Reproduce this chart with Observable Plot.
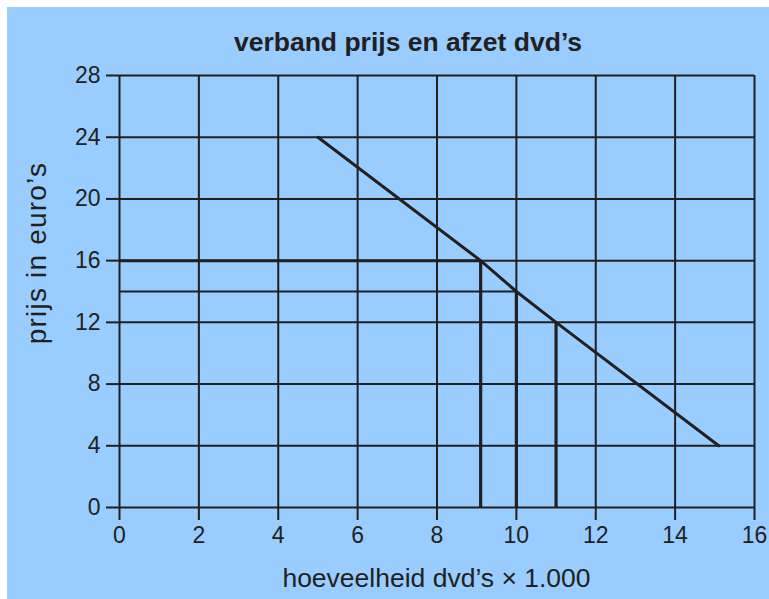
<!DOCTYPE html>
<html>
<head>
<meta charset="utf-8">
<script src="https://cdn.jsdelivr.net/npm/d3@7"></script>
<script src="https://cdn.jsdelivr.net/npm/@observablehq/plot@0.6"></script>
<style>
  html, body { margin: 0; padding: 0; background: #ffffff; }
  #page { position: relative; width: 769px; height: 599px; overflow: hidden; font-family: "Liberation Sans", Arial, Helvetica, sans-serif; color: #231f20; }
  #bg { position: absolute; left: 7px; top: 7px; right: 0; bottom: 0; background: #99ccff; }
  #title { position: absolute; left: 0; width: 816px; top: 27px; text-align: center; font-weight: bold; font-size: 26.5px; line-height: 30px; }
  #xlabel { position: absolute; left: 0; width: 873px; top: 563px; text-align: center; font-size: 26.5px; line-height: 30px; }
  #ylabel { position: absolute; left: 37px; top: 253px; transform: translate(-50%, -50%) rotate(-90deg); white-space: nowrap; font-size: 28px; letter-spacing: 1.2px; line-height: 30px; }
  #chart { position: absolute; left: 0; top: 0; }
  #chart svg { background: transparent; }
</style>
</head>
<body>
<div id="page">
  <div id="bg"></div>
  <div id="chart"></div>
  <div id="title">verband prijs en afzet dvd’s</div>
  <div id="xlabel">hoeveelheid dvd’s × 1.000</div>
  <div id="ylabel">prijs in euro’s</div>
</div>
<script>
// Tick values
const xTicks = [0, 2, 4, 6, 8, 10, 12, 14, 16];
const yTicks = [0, 4, 8, 12, 16, 20, 24, 28];

// Demand line (quantity × 1.000, price in euro)
const demandQuantity = [5, 9.1, 10, 11, 15.1];
const demandPrice = [24, 16, 14, 12, 4];

// Reference points
const refQuantity = [9.1, 10, 11];
const refPrice = [16, 14, 12];
// Horizontal helper lines (price levels drawn to the line)
const hLinePrice = [16, 14];
const hLineQuantity = [9.1, 10];

const ink = "#231f20";
const demand = demandQuantity.map((q, i) => ({q, p: demandPrice[i]}));
const refs = refQuantity.map((q, i) => ({q, p: refPrice[i]}));
const hLines = hLinePrice.map((p, i) => ({p, q: hLineQuantity[i]}));

const chart = Plot.plot({
  width: 769,
  height: 599,
  marginLeft: 119,
  marginRight: 15,
  marginTop: 75,
  marginBottom: 92,
  style: {background: "transparent", fontFamily: "'Liberation Sans', Arial, sans-serif", color: ink},
  x: {domain: [0, 16], ticks: xTicks},
  y: {domain: [0, 28], ticks: yTicks},
  marks: [
    Plot.gridX(xTicks, {stroke: ink, strokeOpacity: 1, strokeWidth: 2}),
    Plot.gridY(yTicks, {stroke: ink, strokeOpacity: 1, strokeWidth: 2}),
    Plot.ruleY(hLines, {y: "p", x1: 0, x2: "q", stroke: ink, strokeWidth: (d) => d.p === 16 ? 3 : 2}),
    Plot.ruleX(refs, {x: "q", y1: 0, y2: "p", stroke: ink, strokeWidth: 3.2}),
    Plot.line(demand, {x: "q", y: "p", stroke: ink, strokeWidth: 3}),
    Plot.axisX(xTicks, {tickSize: 13, tickPadding: 6, fontSize: 23, stroke: ink, strokeWidth: 2, label: null, fill: ink}),
    Plot.axisY(yTicks, {tickSize: 13, tickPadding: 6, fontSize: 23, stroke: ink, strokeWidth: 2, label: null, fill: ink})
  ]
});
document.getElementById("chart").appendChild(chart);
</script>
</body>
</html>
